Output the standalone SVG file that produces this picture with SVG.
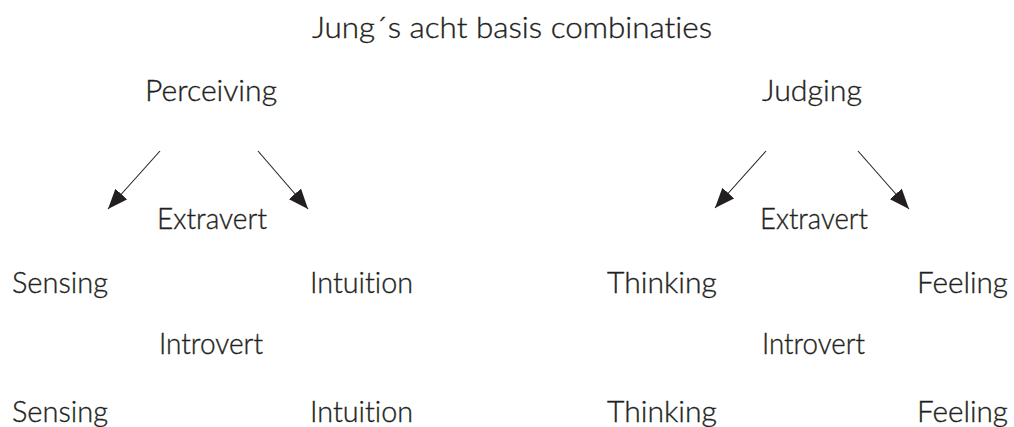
<svg xmlns="http://www.w3.org/2000/svg" width="1014" height="427" viewBox="0 0 1014 427">
<style>
text{font-family:Lato,"Noto Sans","Liberation Sans",sans-serif;font-size:29px;font-weight:300;fill:#231f20;stroke:#231f20;stroke-width:0.35;font-variant-ligatures:none}
.c{stroke:#231f20;stroke-width:1.1;fill:none;marker-end:url(#ah)}
</style>
<defs>
<marker id="ah" markerUnits="userSpaceOnUse" markerWidth="20" markerHeight="16" viewBox="0 0 20 16" refX="20" refY="8" orient="auto">
<path d="M0,0 L20,8 L0,16 z" fill="#231f20"/>
</marker>
</defs>
<rect width="1014" height="427" fill="#fff"/>
<g id="title"><text x="312" y="38" textLength="400" lengthAdjust="spacingAndGlyphs">Jung´s acht basis combinaties</text></g>
<g id="perceiving"><text x="145" y="101" textLength="132" lengthAdjust="spacingAndGlyphs">Perceiving</text></g>
<g id="judging"><text x="762" y="101" textLength="100" lengthAdjust="spacingAndGlyphs">Judging</text></g>
<g id="extravert-left"><text x="157" y="229" textLength="110" lengthAdjust="spacingAndGlyphs">Extravert</text></g>
<g id="extravert-right"><text x="760" y="229" textLength="108" lengthAdjust="spacingAndGlyphs">Extravert</text></g>
<g id="sensing-1"><text x="12" y="293" textLength="96" lengthAdjust="spacingAndGlyphs">Sensing</text></g>
<g id="intuition-1"><text x="310" y="293" textLength="103" lengthAdjust="spacingAndGlyphs">Intuition</text></g>
<g id="thinking-1"><text x="607" y="293" textLength="110" lengthAdjust="spacingAndGlyphs">Thinking</text></g>
<g id="feeling-1"><text x="917" y="293" textLength="91" lengthAdjust="spacingAndGlyphs">Feeling</text></g>
<g id="introvert-left"><text x="159" y="354" textLength="104" lengthAdjust="spacingAndGlyphs">Introvert</text></g>
<g id="introvert-right"><text x="762" y="354" textLength="103" lengthAdjust="spacingAndGlyphs">Introvert</text></g>
<g id="sensing-2"><text x="12" y="422" textLength="96" lengthAdjust="spacingAndGlyphs">Sensing</text></g>
<g id="intuition-2"><text x="310" y="422" textLength="103" lengthAdjust="spacingAndGlyphs">Intuition</text></g>
<g id="thinking-2"><text x="607" y="422" textLength="110" lengthAdjust="spacingAndGlyphs">Thinking</text></g>
<g id="feeling-2"><text x="917" y="422" textLength="91" lengthAdjust="spacingAndGlyphs">Feeling</text></g>
<g id="connectors">
<line class="c" x1="160" y1="151" x2="108" y2="209"/>
<line class="c" x1="258" y1="151" x2="308" y2="209"/>
<line class="c" x1="766" y1="151" x2="715" y2="208"/>
<line class="c" x1="858" y1="151" x2="909" y2="209"/>
</g>
</svg>
